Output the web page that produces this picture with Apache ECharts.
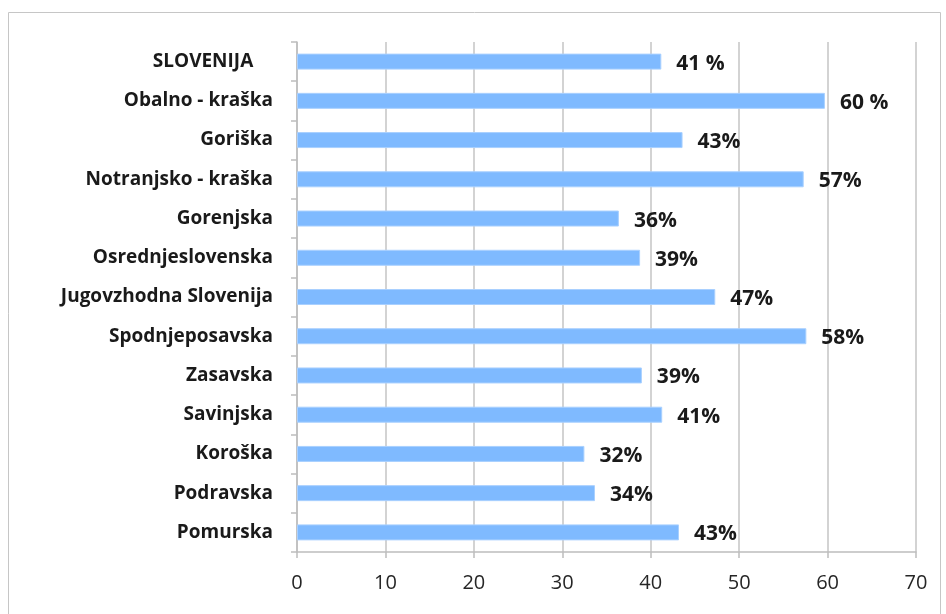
<!DOCTYPE html>
<html>
<head>
<meta charset="utf-8">
<script src="https://cdn.jsdelivr.net/npm/echarts@6/dist/echarts.min.js"></script>
<style>
  html, body { margin: 0; padding: 0; background: #fff; }
  #box1 { width: 946px; height: 614px; }
</style>
</head>
<body>
<div id="box1"></div>
<script>
var regions = ['SLOVENIJA    ', 'Obalno - kraška', 'Goriška', 'Notranjsko - kraška', 'Gorenjska',
  'Osrednjeslovenska', 'Jugovzhodna Slovenija', 'Spodnjeposavska', 'Zasavska', 'Savinjska',
  'Koroška', 'Podravska', 'Pomurska'];
var shares = [41.2, 59.7, 43.6, 57.3, 36.4, 38.8, 47.3, 57.6, 39.0, 41.3, 32.5, 33.7, 43.2];
var shareLabels = ['41 %', '60 %', '43%', '57%', '36%', '39%', '47%', '58%', '39%', '41%', '32%', '34%', '43%'];
var xTicks = [0, 10, 20, 30, 40, 50, 60, 70];

var myChart1 = echarts.init(document.getElementById('box1'));
var option = {
  backgroundColor: '#fff',
  animation: false,
  graphic: [{
    type: 'rect',
    shape: { x: 8.5, y: 12.5, width: 932, height: 620 },
    style: { fill: 'none', stroke: '#c6c6c6', lineWidth: 1 }
  }],
  grid: {
    left: 297,
    right: 30,
    top: 42,
    bottom: 62
  },
  xAxis: {
    type: 'value',
    min: xTicks[0],
    max: xTicks[xTicks.length - 1],
    interval: 10,
    axisLine: { show: true, lineStyle: { color: '#bdbdbd', width: 1.5 } },
    axisTick: { show: true, length: 6, lineStyle: { color: '#bdbdbd', width: 1.5 } },
    splitLine: { show: true, lineStyle: { color: '#c4c4c4', width: 1.5 } },
    axisLabel: {
      color: '#262626',
      fontSize: 20,
      fontFamily: 'Open Sans',
      margin: 21
    }
  },
  yAxis: {
    type: 'category',
    inverse: true,
    data: regions,
    axisLine: { show: true, lineStyle: { color: '#bdbdbd', width: 1.5 } },
    axisTick: { show: true, length: 6, lineStyle: { color: '#bdbdbd', width: 1.5 } },
    axisLabel: {
      color: '#1a1a1a',
      fontSize: 19,
      fontWeight: 'bold',
      fontFamily: 'Open Sans',
      margin: 24
    }
  },
  series: [{
    type: 'bar',
    data: shares,
    barWidth: 16,
    itemStyle: {
      color: '#7fbaff',
      borderColor: '#a9d0ff',
      borderWidth: 1
    },
    label: {
      show: true,
      position: 'right',
      distance: 15,
      offset: [0, 2],
      color: '#1a1a1a',
      fontSize: 21,
      fontWeight: 'bold',
      fontFamily: 'Open Sans',
      formatter: function (p) { return shareLabels[p.dataIndex]; }
    }
  }]
};
myChart1.setOption(option);
</script>
</body>
</html>
